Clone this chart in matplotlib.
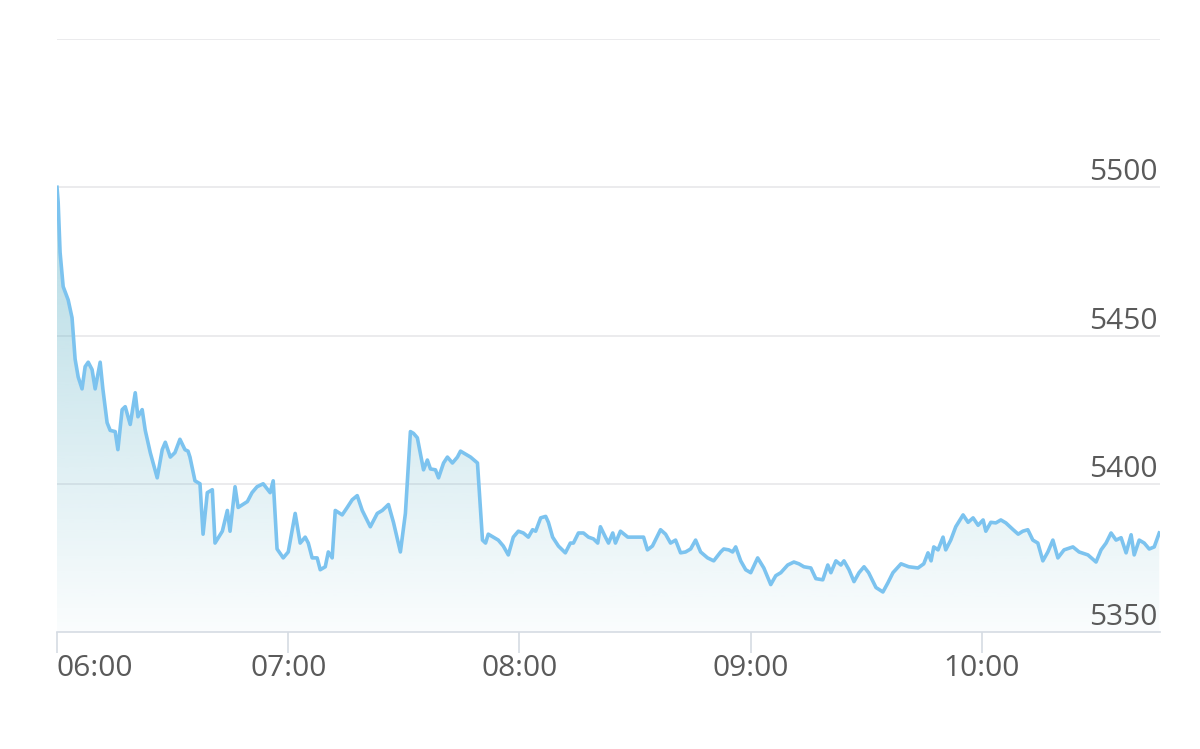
import numpy as np
import matplotlib
matplotlib.use("Agg")
import matplotlib.pyplot as plt
from matplotlib.colors import LinearSegmentedColormap

# minutes after 06:00
minutes = [0.0, 0.3, 0.8, 1.6, 2.9, 3.9, 4.7, 5.5, 6.5, 7.3, 8.1, 9.1, 9.9, 11.2, 11.9,
           13.0, 13.8, 15.1, 15.8, 16.9, 17.7, 19.0, 20.3, 21.0, 22.1, 22.9, 24.2, 26.0,
           27.3, 28.1, 29.4, 30.6, 31.9, 33.2, 34.0, 34.5, 35.8, 37.1, 37.9, 39.0, 40.3,
           41.0, 42.9, 44.2, 44.9, 46.2, 47.0, 49.4, 50.6, 51.9, 53.5, 55.3, 56.1, 57.1,
           58.7, 60.0, 61.8, 63.1, 64.4, 65.2, 66.2, 67.5, 68.3, 69.6, 70.4, 71.4, 72.2,
           74.0, 75.3, 76.6, 77.9, 79.2, 81.3, 83.1, 84.4, 86.0, 87.3, 89.1, 90.4, 91.7,
           92.5, 93.5, 95.1, 96.1, 96.9, 98.2, 99.0, 100.3, 101.3, 102.6, 103.9, 104.7,
           106.0, 107.3, 109.1, 110.4, 111.2, 111.9, 113.2, 114.5, 115.8, 117.1, 118.4,
           119.7, 121.0, 122.3, 123.4, 124.2, 125.5, 126.8, 127.5, 128.6, 130.1, 131.9,
           133.2, 134.0, 135.3, 136.6, 137.9, 139.2, 140.3, 141.0, 142.3, 143.1, 144.2,
           144.9, 146.2, 148.1, 150.6, 152.2, 153.2, 154.5, 156.6, 157.9, 159.2, 160.5,
           161.8, 163.1, 164.4, 165.7, 167.0, 168.8, 170.4, 172.2, 173.0, 174.3, 175.3,
           176.1, 177.4, 178.7, 180.0, 181.8, 183.4, 185.2, 186.5, 187.8, 189.6, 191.2,
           192.5, 193.8, 195.6, 196.9, 198.7, 200.0, 200.8, 202.1, 203.4, 204.2, 205.5,
           206.8, 208.1, 209.4, 210.6, 212.5, 214.3, 215.6, 216.9, 219.0, 221.0, 223.4,
           224.9, 226.0, 226.8, 227.5, 228.6, 229.9, 230.6, 231.9, 233.2, 235.1, 236.4,
           237.7, 239.0, 240.3, 241.0, 242.3, 243.6, 244.9, 246.2, 248.1, 249.4, 250.6,
           251.9, 253.2, 254.5, 255.8, 257.1, 258.4, 259.7, 261.3, 263.6, 265.2, 267.5,
           269.6, 270.9, 272.2, 273.5, 274.8, 276.1, 277.4, 278.7, 279.5, 280.8, 282.1,
           283.4, 284.7, 286.0]

prices = [5500, 5495, 5478, 5466.5, 5462, 5456, 5442, 5436, 5432, 5439.5, 5441, 5438.5,
          5432, 5441, 5432, 5420.6, 5418, 5417.6, 5411.5, 5425, 5426, 5420, 5430.7, 5422.6,
          5425, 5418, 5410.5, 5402, 5411.5, 5414, 5409, 5410.5, 5415, 5411.5, 5411, 5409,
          5401, 5400, 5383, 5397, 5398, 5380, 5384, 5391, 5384, 5399, 5392, 5394, 5397,
          5399, 5400, 5397, 5401, 5378, 5375, 5377, 5390, 5380, 5382, 5380, 5375, 5375,
          5371, 5372, 5377, 5375, 5391, 5389.5, 5392, 5394.6, 5396, 5391, 5385.5, 5390,
          5391, 5393, 5387, 5377, 5390, 5417.6, 5417, 5415.5, 5404.7, 5408, 5405, 5404.7,
          5402, 5407, 5409, 5407, 5409, 5411, 5410, 5409, 5407, 5381, 5380, 5383, 5382,
          5381, 5379, 5376, 5382, 5384, 5383.4, 5382, 5384.5, 5384, 5388.5, 5389, 5387,
          5382, 5379, 5376.7, 5380, 5380, 5383.4, 5383.4, 5382, 5381.4, 5380, 5385.5,
          5382, 5380, 5383.4, 5380, 5384, 5382, 5382, 5382, 5377.7, 5379, 5384.5, 5383,
          5380, 5381, 5376.7, 5377, 5378, 5381, 5377, 5375, 5374, 5377, 5378, 5377.7,
          5377, 5378.7, 5374, 5371, 5370, 5375, 5371.6, 5366, 5369, 5370, 5372.6, 5373.6,
          5373, 5372, 5371.6, 5368, 5367.6, 5372.6, 5370, 5374, 5372.6, 5374, 5371, 5367,
          5370, 5372, 5370, 5365, 5363.5, 5366.6, 5370, 5373, 5372, 5371.6, 5373, 5376.7,
          5374, 5378.7, 5377.7, 5382, 5377.7, 5381, 5385.5, 5389.5, 5387, 5388.5, 5386,
          5387.8, 5384, 5387, 5386.8, 5387.8, 5386.8, 5384.5, 5383, 5384, 5384.5, 5381,
          5380, 5374, 5377, 5381, 5375, 5377.7, 5378.7, 5377, 5376, 5373.6, 5377.7, 5380,
          5383.4, 5381, 5381.8, 5376.7, 5382.8, 5376, 5381, 5380, 5378, 5378.7, 5383.4]

hour_ticks = [0, 60, 120, 180, 240]
hour_labels = ["06:00", "07:00", "08:00", "09:00", "10:00"]
price_ticks = [5350, 5400, 5450, 5500]
grid_levels = [5400, 5450, 5500, 5550]

plt.rcParams['font.family'] = ['Open Sans', 'DejaVu Sans']

fig = plt.figure(figsize=(12, 7.49), dpi=100)
ax = fig.add_axes([0.0475, 0.1562, 0.9195, 0.7917])
ax.set_xlim(0, 286.3)
ax.set_ylim(5350, 5550)

for lv in grid_levels:
    ax.axhline(lv, color="#e8e8ea", lw=1.2, zorder=1)

# gradient fill under the line
x = np.array(minutes)
y = np.array(prices)
cmap = LinearSegmentedColormap.from_list(
    "fade", [(100/255, 180/255, 200/255, 0.03), (100/255, 180/255, 200/255, 0.5)])
grad = np.linspace(0, 1, 256).reshape(-1, 1)
img = ax.imshow(grad, cmap=cmap, aspect="auto", origin="lower",
                extent=[0, 286.3, 5350, 5500], zorder=2)
poly = ax.fill_between(x, y, 5350, color="none", lw=0)
img.set_clip_path(poly.get_paths()[0], transform=ax.transData)

ax.plot(x, y, color="#7cc3ef", lw=2.6, zorder=3, solid_joinstyle="round")

for s in ["top", "right", "left"]:
    ax.spines[s].set_visible(False)
ax.spines["bottom"].set_color("#d5dbe3")
ax.spines["bottom"].set_linewidth(1.2)

ax.set_yticks([])
ax.set_xticks(hour_ticks)
ax.set_xticklabels(hour_labels)
ax.tick_params(axis="x", length=15, width=1.2, color="#d5dbe3", pad=1,
               labelsize=21.5, labelcolor="#5a5a5a")
ax.get_xticklabels()[0].set_horizontalalignment("left")

for p in price_ticks:
    ax.annotate(str(p), xy=(1.0, p), xycoords=("axes fraction", "data"),
                xytext=(-2, 5), textcoords="offset points",
                ha="right", va="baseline", fontsize=21.5, color="#5a5a5a")

fig.savefig("out.png", dpi=100, facecolor="white")
